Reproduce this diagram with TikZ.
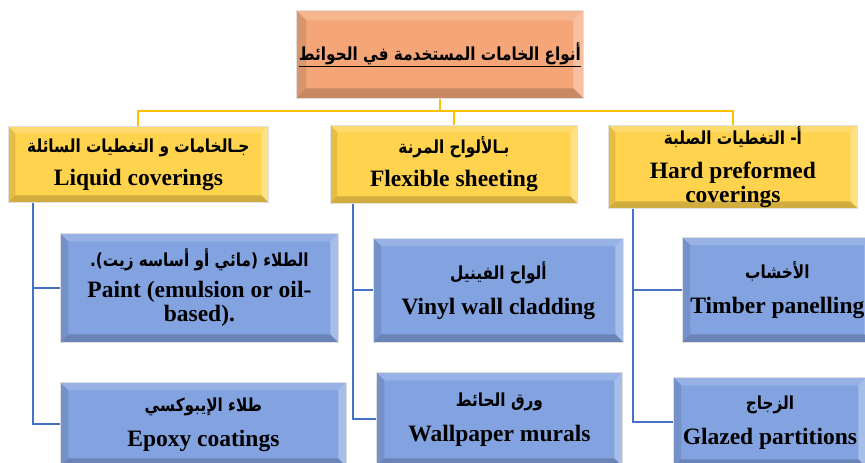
\documentclass[tikz,border=0pt]{standalone}
\usepackage{fontspec}
\setmainfont{Liberation Serif}
\newfontfamily\arabicfont[Script=Arabic,FakeStretch=0.85]{DejaVu Sans}
\TeXXeTstate=1
\usetikzlibrary{positioning}

\definecolor{titleorange}{RGB}{244,166,120}
\definecolor{headgold}{RGB}{255,211,77}
\definecolor{itemblue}{RGB}{130,162,224}
\definecolor{goldline}{RGB}{255,192,0}
\definecolor{blueline}{RGB}{68,114,196}

\newcommand{\arline}[1]{{\arabicfont\bfseries\fontsize{18}{19}\selectfont\beginR #1\endR}}

\tikzset{
  bevelbox/.style={draw=black!12, line width=0.8pt, anchor=north west, inner sep=0pt,
    align=center, font=\bfseries\fontsize{23.5}{24}\selectfont,
    path picture={
      \fill[white,opacity=.18] (path picture bounding box.north west) -- (path picture bounding box.north east)
        -- ([shift={(-#1,-#1)}]path picture bounding box.north east) -- ([shift={(#1,-#1)}]path picture bounding box.north west) -- cycle;
      \fill[black,opacity=.10] (path picture bounding box.north west) -- (path picture bounding box.south west)
        -- ([shift={(#1,#1)}]path picture bounding box.south west) -- ([shift={(#1,-#1)}]path picture bounding box.north west) -- cycle;
      \fill[white,opacity=.30] (path picture bounding box.north east) -- (path picture bounding box.south east)
        -- ([shift={(-#1,#1)}]path picture bounding box.south east) -- ([shift={(-#1,-#1)}]path picture bounding box.north east) -- cycle;
      \fill[black,opacity=.18] (path picture bounding box.south west) -- (path picture bounding box.south east)
        -- ([shift={(-#1,#1)}]path picture bounding box.south east) -- ([shift={(#1,#1)}]path picture bounding box.south west) -- cycle;
    }},
  titlebox/.style={bevelbox=10pt, fill=titleorange},
  headbox/.style={bevelbox=7pt, fill=headgold},
  itembox/.style={bevelbox=8pt, fill=itemblue},
  goldconn/.style={draw=goldline, line width=2pt},
  blueconn/.style={draw=blueline, line width=2pt}
}

\begin{document}
\begin{tikzpicture}[x=1pt, y=-1pt]
  \useasboundingbox (0,0) rectangle (865,463);

  % Title
  \node[titlebox, minimum width=287pt, minimum height=88pt] (title) at (296,10)
    {\underline{\arabicfont\bfseries\fontsize{18}{20}\selectfont\beginR أنواع الخامات المستخدمة في الحوائط\endR}};

  % Main groups
  \node[headbox, minimum width=260pt, minimum height=76pt] (liquid) at (8,126)
    {\arline{جـالخامات و التغطيات السائلة}\\[9pt] Liquid coverings};
  \node[headbox, minimum width=247pt, minimum height=78pt] (flexible) at (330,125)
    {\arline{بـالألواح المرنة}\\[9pt] Flexible sheeting};
  \node[headbox, minimum width=249pt, minimum height=83pt] (hard) at (608,125)
    {\arline{أ- التغطيات الصلبة}\\[10pt] Hard preformed\\ coverings};

  % Liquid coverings
  \node[itembox, minimum width=278pt, minimum height=109pt] (paint) at (60,233)
    {\arline{الطلاء (مائي أو أساسه زيت).}\\[7pt] Paint (emulsion or oil-\\ based).};
  \node[itembox, minimum width=286pt, minimum height=84pt] (epoxy) at (60,382)
    {\arline{طلاء الإيبوكسي}\\[11pt] Epoxy coatings};

  % Flexible sheeting
  \node[itembox, minimum width=250pt, minimum height=104pt] (vinyl) at (373,238)
    {\arline{ألواح الفينيل}\\[11pt] Vinyl wall cladding};
  \node[itembox, minimum width=246pt, minimum height=94pt] (wallpaper) at (376,372)
    {\arline{ورق الحائط}\\[11pt] Wallpaper murals};

  % Hard preformed coverings
  \node[itembox, minimum width=190pt, minimum height=105pt] (timber) at (682,237)
    {\arline{الأخشاب}\\[11pt] Timber panelling};
  \node[itembox, minimum width=193pt, minimum height=90pt] (glazed) at (673,377)
    {\arline{الزجاج}\\[11pt] Glazed partitions};

  % Gold connectors
  \coordinate (bus) at (0,111);
  \draw[goldconn] (title.south) -- (title.south |- bus);
  \draw[goldconn] (liquid.north) -- (liquid.north |- bus) -- (hard.north |- bus) -- (hard.north);
  \draw[goldconn] (flexible.north) -- (flexible.north |- bus);

  % Blue connectors
  \draw[blueconn] ([xshift=25pt]liquid.south west) |- (paint.west);
  \draw[blueconn] ([xshift=25pt]liquid.south west) |- (epoxy.west);
  \draw[blueconn] ([xshift=23pt]flexible.south west) |- (vinyl.west);
  \draw[blueconn] ([xshift=23pt]flexible.south west) |- (wallpaper.west);
  \draw[blueconn] ([xshift=25pt]hard.south west) |- (timber.west);
  \draw[blueconn] ([xshift=25pt]hard.south west) |- (glazed.west);
\end{tikzpicture}
\end{document}
